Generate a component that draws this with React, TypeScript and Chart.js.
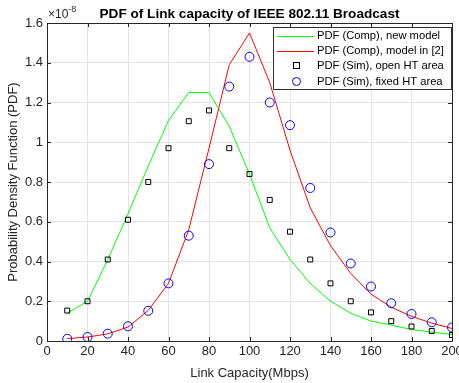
import React, { useEffect, useRef } from "react";
import { Chart, registerables } from "chart.js";

Chart.register(...registerables);

const xValues = [10, 20, 30, 40, 50, 60, 70, 80, 90, 100, 110, 120, 130, 140, 150, 160, 170, 180, 190, 200];
// values in units of 1e-8
const compNewModel = [0.14, 0.2, 0.41, 0.64, 0.88, 1.11, 1.25, 1.25, 1.08, 0.84, 0.57, 0.41, 0.29, 0.2, 0.14, 0.1, 0.08, 0.058, 0.044, 0.033];
const compModel2 = [0.012, 0.02, 0.036, 0.07, 0.154, 0.29, 0.56, 0.97, 1.39, 1.55, 1.3, 0.96, 0.67, 0.48, 0.34, 0.236, 0.17, 0.124, 0.09, 0.063];
const simOpenHT = [0.153, 0.2, 0.41, 0.61, 0.8, 0.97, 1.106, 1.16, 0.97, 0.84, 0.71, 0.55, 0.41, 0.29, 0.2, 0.144, 0.1, 0.073, 0.05, 0.03];
const simFixedHT = [0.011, 0.02, 0.037, 0.074, 0.152, 0.29, 0.53, 0.89, 1.28, 1.43, 1.2, 1.086, 0.77, 0.546, 0.39, 0.274, 0.19, 0.136, 0.094, 0.068];

const legendLabels = [
  "PDF (Comp), new model",
  "PDF (Comp), model in [2]",
  "PDF (Sim), open HT area",
  "PDF (Sim), fixed HT area",
];
const titleText = "PDF of Link capacity of IEEE 802.11 Broadcast";
const xLabel = "Link Capacity(Mbps)";
const yLabel = "Probability Density Function (PDF)";

const FONT = "'Liberation Sans', Arial, Helvetica, sans-serif";
const AXIS = "#262626";

const toPts = (ys: number[]) => ys.map((y, i) => ({ x: xValues[i], y }));

const decorPlugin = {
  id: "decor",
  afterDraw(chart: any) {
    const ctx = chart.ctx;
    const a = chart.chartArea;
    const xs = chart.scales.x;
    const ys = chart.scales.y;
    ctx.save();
    // box
    ctx.strokeStyle = AXIS;
    ctx.lineWidth = 1;
    ctx.beginPath();
    ctx.rect(Math.round(a.left) + 0.5, Math.round(a.top) + 0.5, Math.round(a.right - a.left), Math.round(a.bottom - a.top));
    ctx.stroke();
    // inward ticks
    ctx.beginPath();
    xs.ticks.forEach((t: any) => {
      const px = Math.round(xs.getPixelForValue(t.value)) + 0.5;
      ctx.moveTo(px, a.bottom);
      ctx.lineTo(px, a.bottom - 4);
      ctx.moveTo(px, a.top);
      ctx.lineTo(px, a.top + 4);
    });
    ys.ticks.forEach((t: any) => {
      const py = Math.round(ys.getPixelForValue(t.value)) + 0.5;
      ctx.moveTo(a.left, py);
      ctx.lineTo(a.left + 4, py);
      ctx.moveTo(a.right, py);
      ctx.lineTo(a.right - 4, py);
    });
    ctx.stroke();

    // title
    ctx.fillStyle = "#000";
    ctx.font = `bold 13.6px ${FONT}`;
    ctx.textAlign = "center";
    ctx.textBaseline = "alphabetic";
    ctx.fillText(titleText, 249.5, 17.5);

    // exponent
    ctx.fillStyle = AXIS;
    ctx.textAlign = "left";
    ctx.font = `12px ${FONT}`;
    ctx.fillText("\u00d710", 48, 18);
    const w = ctx.measureText("\u00d710").width;
    ctx.font = `9px ${FONT}`;
    ctx.fillText("-8", 48 + w, 12);

    // axis labels
    ctx.font = `13px ${FONT}`;
    ctx.textAlign = "center";
    ctx.textBaseline = "middle";
    ctx.fillText(xLabel, (a.left + a.right) / 2, 373);
    ctx.save();
    ctx.translate(13, (a.top + a.bottom) / 2);
    ctx.rotate(-Math.PI / 2);
    ctx.fillText(yLabel, 0, 0);
    ctx.restore();

    // legend
    const bx = 273, by = 27, bw = 178, bh = 62;
    ctx.fillStyle = "#fff";
    ctx.fillRect(bx, by, bw, bh);
    ctx.strokeStyle = "#333";
    ctx.lineWidth = 1;
    ctx.strokeRect(bx + 0.5, by + 0.5, bw, bh);
    const rows = [35.5, 50.8, 66, 81.5];
    ctx.font = `11.2px ${FONT}`;
    ctx.textAlign = "left";
    ctx.textBaseline = "middle";
    rows.forEach((ry, i) => {
      ctx.fillStyle = "#000";
      ctx.fillText(legendLabels[i], 317, ry);
      if (i === 0 || i === 1) {
        ctx.strokeStyle = i === 0 ? "#00ff00" : "#ff0000";
        ctx.lineWidth = 1;
        ctx.beginPath();
        ctx.moveTo(277, Math.round(ry) + 0.5);
        ctx.lineTo(314, Math.round(ry) + 0.5);
        ctx.stroke();
      } else if (i === 2) {
        ctx.strokeStyle = "#000";
        ctx.lineWidth = 1;
        ctx.strokeRect(293.5, Math.round(ry) - 3.5, 6, 6);
      } else {
        ctx.strokeStyle = "#0000ff";
        ctx.lineWidth = 1;
        ctx.beginPath();
        ctx.arc(296.5, ry, 4, 0, Math.PI * 2);
        ctx.stroke();
      }
    });
    ctx.restore();
  },
};

export default function App() {
  const ref = useRef<HTMLCanvasElement>(null);
  useEffect(() => {
    document.body.style.margin = "0";
    const canvas = ref.current!;
    const chart = new Chart(canvas, {
      type: "line",
      data: {
        datasets: [
          {
            label: legendLabels[0],
            data: toPts(compNewModel),
            borderColor: "#00ff00",
            borderWidth: 1,
            pointRadius: 0,
            fill: false,
            tension: 0,
            order: 4,
          },
          {
            label: legendLabels[1],
            data: toPts(compModel2),
            borderColor: "#ff0000",
            borderWidth: 1,
            pointRadius: 0,
            fill: false,
            tension: 0,
            order: 3,
          },
          {
            label: legendLabels[2],
            data: toPts(simOpenHT),
            showLine: false,
            pointStyle: "rect",
            pointRadius: 3.5,
            pointBorderColor: "#000",
            pointBackgroundColor: "rgba(0,0,0,0)",
            pointBorderWidth: 1,
            borderColor: "#000",
            order: 2,
          },
          {
            label: legendLabels[3],
            data: toPts(simFixedHT),
            showLine: false,
            pointStyle: "circle",
            pointRadius: 4.5,
            pointBorderColor: "#0000ff",
            pointBackgroundColor: "rgba(0,0,0,0)",
            pointBorderWidth: 1,
            borderColor: "#0000ff",
            order: 1,
          },
        ],
      },
      options: {
        animation: false,
        responsive: false,
        maintainAspectRatio: false,
        devicePixelRatio: 1,
        layout: { padding: { left: 0, right: 7, top: 23, bottom: 0 } },
        plugins: {
          legend: { display: false },
          title: { display: false },
          tooltip: { enabled: false },
        },
        scales: {
          x: {
            type: "linear",
            min: 0,
            max: 200,
            afterFit: (s: any) => {
              s.height = 42;
              s.paddingLeft = 0;
              s.paddingRight = 0;
            },
            ticks: {
              stepSize: 20,
              color: AXIS,
              font: { family: FONT, size: 13 },
              padding: 3,
              maxRotation: 0,
            },
            grid: { color: "#e3e3e3", drawTicks: false },
            border: { display: false },
          },
          y: {
            type: "linear",
            min: 0,
            max: 1.6,
            afterFit: (s: any) => {
              s.width = 47;
              s.paddingTop = 0;
              s.paddingBottom = 0;
            },
            ticks: {
              stepSize: 0.2,
              color: AXIS,
              font: { family: FONT, size: 13 },
              padding: 4,
              callback: (v: any) => String(Number(Number(v).toFixed(1))),
            },
            grid: { color: "#e3e3e3", drawTicks: false },
            border: { display: false },
          },
        },
      },
      plugins: [decorPlugin],
    } as any);
    return () => chart.destroy();
  }, []);
  return (
    <div style={{ width: 459, height: 383, background: "#fff" }}>
      <canvas ref={ref} width={459} height={383} style={{ display: "block", width: 459, height: 383 }} />
    </div>
  );
}
